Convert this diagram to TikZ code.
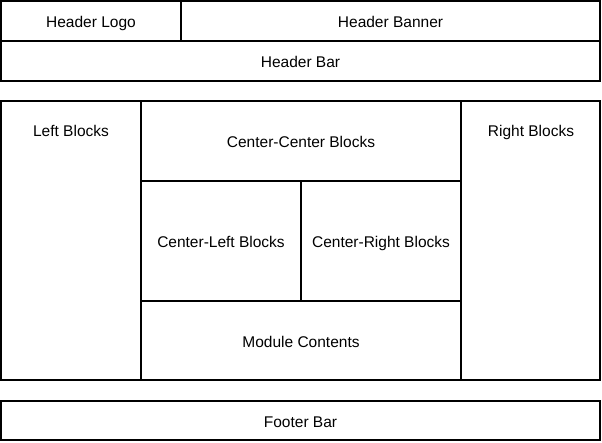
\documentclass[tikz,border=0pt]{standalone}
\usepackage{fontspec}
\setmainfont{Liberation Sans}
\tikzset{
  blk/.style={draw, line width=2pt, inner sep=0pt, text height=13pt, text depth=0pt,
    font=\fontsize{15.5}{18}\selectfont},
  txt/.style={inner sep=0pt, text height=13pt, text depth=0pt, font=\fontsize{15.5}{18}\selectfont}
}
\begin{document}
\begin{tikzpicture}[x=1pt,y=-1pt]
\useasboundingbox (0,0) rectangle (602,442);

\node[blk, minimum width=180pt, minimum height=40pt] (logo) at (91,21) {Header Logo};
\node[blk, minimum width=419pt, minimum height=40pt] (banner) at (390.5,21) {Header Banner};
\node[blk, minimum width=599pt, minimum height=40pt] (hbar) at (300.5,61) {Header Bar};

\node[blk, minimum width=599pt, minimum height=279pt] (main) at (300.5,240.5) {};
\node[blk, minimum width=140pt, minimum height=279pt] (left) at (71,240.5) {};
\node[blk, minimum width=139pt, minimum height=279pt] (right) at (530.5,240.5) {};
\node[txt] (lefttext) at (71,130) {Left Blocks};
\node[txt] (righttext) at (531,130) {Right Blocks};

\node[blk, minimum width=320pt, minimum height=80pt] (cc) at (301,141) {Center-Center Blocks};
\node[blk, minimum width=160pt, minimum height=120pt] (cl) at (221,241) {Center-Left Blocks};
\node[blk, minimum width=160pt, minimum height=120pt] (cr) at (381,241) {Center-Right Blocks};
\node[blk, minimum width=320pt, minimum height=79pt] (mod) at (301,340.5) {Module Contents};

\node[blk, minimum width=599pt, minimum height=39pt] (footer) at (300.5,420.5) {Footer Bar};
\end{tikzpicture}
\end{document}
